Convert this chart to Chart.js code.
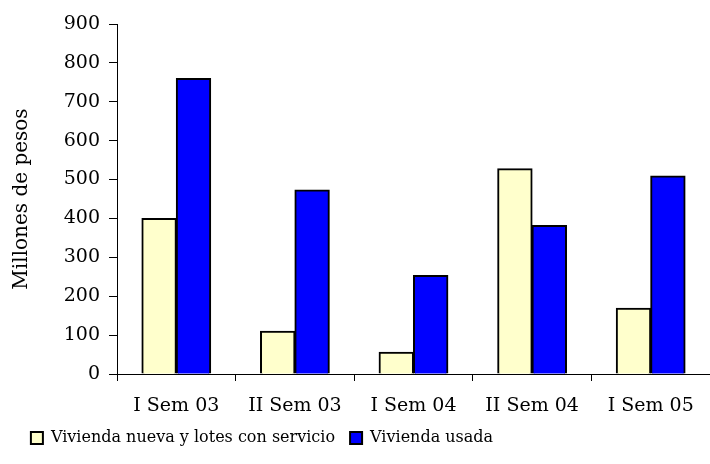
<!DOCTYPE html>
<html>
<head>
<meta charset="utf-8">
<script src="https://cdn.jsdelivr.net/npm/chart.js@4/dist/chart.umd.min.js"></script>
<style>
  html, body { margin: 0; padding: 0; background: #fff; }
  #wrap { width: 710px; height: 464px; }
</style>
</head>
<body>
<div id="wrap"><canvas id="chart" width="710" height="464"></canvas></div>
<script>
const categories = ['I Sem 03', 'II Sem 03', 'I Sem 04', 'II Sem 04', 'I Sem 05'];
const nuevaValues = [400, 110, 56, 528, 169];
const usadaValues = [760, 473, 253, 382, 509];
const yTicks = [0, 100, 200, 300, 400, 500, 600, 700, 800, 900];

const fontFamily = '"DejaVu Serif", serif';

// pull the legend left so it sits under the left part of the picture
const legendShift = {
  id: 'legendShift',
  afterLayout(chart) {
    const lg = chart.legend;
    lg.left = 0;
    lg.right = 524;
  }
};

const ctx = document.getElementById('chart').getContext('2d');
const chart = new Chart(ctx, {
  type: 'bar',
  data: {
    labels: categories,
    datasets: [{
      label: 'Vivienda nueva y lotes con servicio',
      data: nuevaValues,
      backgroundColor: '#FFFFCC',
      borderColor: '#000',
      borderWidth: 2,
      borderSkipped: 'bottom',
      inflateAmount: 0.5
    }, {
      label: 'Vivienda usada',
      data: usadaValues,
      backgroundColor: '#0000FF',
      borderColor: '#000',
      borderWidth: 2,
      borderSkipped: 'bottom',
      inflateAmount: 0.5
    }]
  },
  options: {
    responsive: false,
    animation: false,
    layout: { padding: { top: 24, right: 0, bottom: 8, left: 0 } },
    datasets: {
      bar: { categoryPercentage: 0.58, barPercentage: 1.0 }
    },
    scales: {
      x: {
        afterFit: axis => { axis.height = 41; },
        grid: { drawOnChartArea: false, drawTicks: true, tickLength: 7, color: '#000', offset: true },
        border: { color: '#000', width: 1 },
        ticks: { color: '#000', font: { family: fontFamily, size: 19 }, padding: 14, maxRotation: 0 }
      },
      y: {
        min: 0,
        max: 900,
        afterBuildTicks: axis => { axis.ticks = yTicks.map(v => ({ value: v })); },
        afterFit: axis => { axis.width = 117; },
        grid: { drawOnChartArea: false, drawTicks: true, tickLength: 8, color: '#000' },
        border: { color: '#000', width: 1 },
        ticks: { color: '#000', font: { family: fontFamily, size: 19 }, padding: 9 },
        title: {
          display: true,
          text: 'Millones de pesos',
          color: '#000',
          font: { family: fontFamily, size: 20 },
          padding: { top: 10, bottom: 0 }
        }
      }
    },
    plugins: {
      legend: {
        position: 'bottom',
        labels: {
          color: '#000',
          font: { family: fontFamily, size: 16 },
          boxWidth: 12,
          boxHeight: 12,
          padding: 15,
          useBorderRadius: false
        }
      },
      tooltip: { enabled: false }
    }
  },
  plugins: [legendShift]
});
</script>
</body>
</html>
